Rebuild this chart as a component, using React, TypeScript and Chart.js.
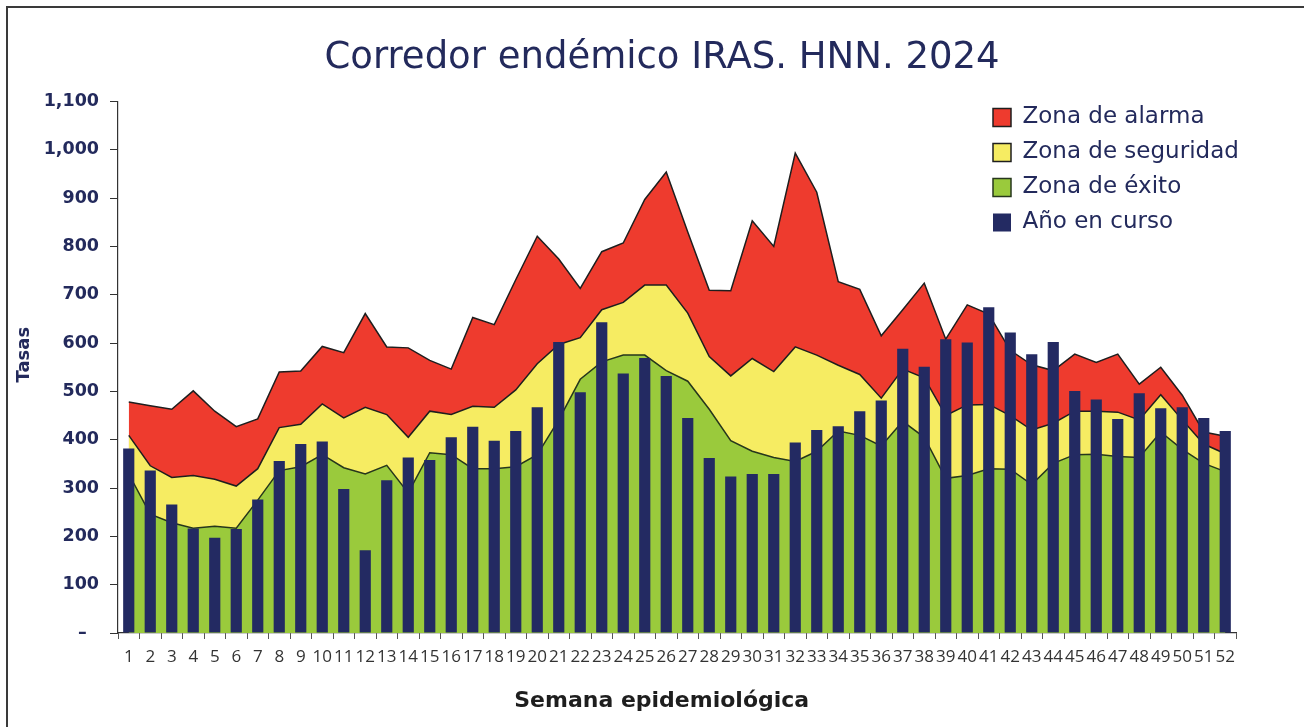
import React, { useEffect, useRef } from 'react';
import { Chart, registerables } from 'chart.js';

Chart.register(...registerables);

const weeks = ['1','2','3','4','5','6','7','8','9','10','11','12','13','14','15','16','17','18','19','20','21','22','23','24','25','26','27','28','29','30','31','32','33','34','35','36','37','38','39','40','41','42','43','44','45','46','47','48','49','50','51','52'];

const zonaAlarma = [478,470,463,501,459,427,443,540,542,593,580,661,592,590,564,546,653,638,731,821,774,713,789,807,897,954,830,709,708,853,800,993,912,727,711,615,669,724,608,679,660,585,555,543,577,560,577,515,550,492,416,407];

const zonaSeguridad = [409,346,322,326,318,304,340,425,432,474,445,467,452,405,459,452,469,467,503,557,597,611,669,684,720,720,662,572,532,568,541,592,575,554,535,486,546,528,450,472,473,450,420,434,459,459,457,441,493,441,391,371];

const zonaExito = [329,246,228,217,221,217,275,336,344,369,342,329,347,290,373,369,340,340,344,369,441,525,561,575,575,543,521,463,398,376,363,355,376,418,409,387,438,405,320,326,340,339,307,351,369,370,365,363,416,380,351,334];

const anoEnCurso = [382,336,266,216,197,215,276,356,391,396,298,171,316,363,358,405,427,398,418,467,602,498,643,537,569,532,445,362,324,329,329,394,420,428,459,481,588,551,608,601,674,622,577,602,501,483,443,496,465,467,445,418];

const seriesNames = ['Zona de alarma', 'Zona de seguridad', 'Zona de éxito', 'Año en curso'];

const NAVY = '#232a5c';
const GEO = '"DejaVu Sans", Inter, sans-serif';

const legendPlacer = {
  id: 'legendPlacer',
  afterLayout(chart: any) {
    const lg = chart.legend;
    if (!lg) return;
    const ca = chart.chartArea;
    const w = lg.width;
    lg.left = ca.right - 255;
    lg.right = lg.left + w;
    lg.top = ca.top - 7.5;
    lg.bottom = lg.top + 220;
  },
};

export default function App() {
  const ref = useRef<HTMLCanvasElement | null>(null);

  useEffect(() => {
    if (!ref.current) return;
    const chart = new Chart(ref.current, {
      type: 'bar',
      data: {
        labels: weeks,
        datasets: [
          {
            type: 'line',
            label: seriesNames[0],
            data: zonaAlarma,
            backgroundColor: '#ee3b2e',
            borderColor: '#1e1e1e',
            borderWidth: 1.5,
            pointRadius: 0,
            tension: 0,
            fill: 'origin',
            order: 4,
          } as any,
          {
            type: 'line',
            label: seriesNames[1],
            data: zonaSeguridad,
            backgroundColor: '#f6ec62',
            borderColor: '#1e1e1e',
            borderWidth: 1.5,
            pointRadius: 0,
            tension: 0,
            fill: 'origin',
            order: 3,
          } as any,
          {
            type: 'line',
            label: seriesNames[2],
            data: zonaExito,
            backgroundColor: '#9aca3c',
            borderColor: '#26361c',
            borderWidth: 1.5,
            pointRadius: 0,
            tension: 0,
            fill: 'origin',
            order: 2,
          } as any,
          {
            type: 'bar',
            label: seriesNames[3],
            data: anoEnCurso,
            backgroundColor: '#232a62',
            borderWidth: 0,
            barPercentage: 0.52,
            categoryPercentage: 1,
            order: 1,
          } as any,
        ],
      },
      options: {
        animation: false,
        responsive: true,
        maintainAspectRatio: false,
        layout: { padding: { left: 20, right: 0, top: 0, bottom: 0 } },
        plugins: {
          tooltip: { enabled: false },
          title: {
            display: true,
            text: 'Corredor endémico IRAS. HNN. 2024',
            color: NAVY,
            font: { family: GEO, size: 37, weight: 'normal' as any },
            padding: { top: 28, bottom: 21 },
          },
          legend: {
            display: true,
            position: 'chartArea' as any,
            align: 'start',
            reverse: true,
            labels: {
              boxWidth: 18,
              boxHeight: 18,
              padding: 12,
              color: NAVY,
              font: { family: GEO, size: 23, weight: 'normal' as any },
            },
          },
        },
        scales: {
          x: {
            offset: true,
            grid: {
              display: true,
              offset: true,
              drawOnChartArea: false,
              drawTicks: true,
              tickLength: 6,
              color: '#555',
            },
            border: { display: true, color: '#333', width: 1.2 },
            ticks: {
              autoSkip: false,
              maxRotation: 0,
              minRotation: 0,
              padding: 8,
              color: '#333',
              font: { family: '"Open Sans", sans-serif', size: 17 },
            },
            title: {
              display: true,
              text: 'Semana epidemiológica    ',
              color: '#1e1e1e',
              font: { family: GEO, size: 22, weight: 'bold' as any },
              padding: { top: 0, bottom: 5 },
            },
            afterFit(scale: any) {
              scale.height = 86;
            },
          },
          y: {
            min: 0,
            max: 1100,
            ticks: {
              stepSize: 100,
              padding: 11,
              color: NAVY,
              font: { family: GEO, size: 17.5, weight: 'bold' as any },
              callback: (v: any) => (Number(v) === 0 ? '–  ' : Number(v).toLocaleString('en-US')),
            },
            grid: {
              display: true,
              drawOnChartArea: false,
              drawTicks: true,
              tickLength: 8,
              color: '#333',
            },
            border: { display: true, color: '#333', width: 1.2 },
            title: {
              display: true,
              text: '    Tasas',
              color: NAVY,
              font: { family: GEO, size: 18, weight: 'bold' as any },
              padding: { top: -14, bottom: 0 },
            },
            afterFit(scale: any) {
              scale.width = 90;
            },
          },
          yRightSpace: {
            type: 'linear',
            position: 'right',
            display: true,
            grid: { display: false },
            border: { display: false },
            ticks: { display: false },
            afterFit(scale: any) {
              scale.width = 60;
            },
          } as any,
        },
      },
      plugins: [legendPlacer],
    });
    return () => chart.destroy();
  }, []);

  return (
    <>
      <div
        style={{
          position: 'absolute',
          left: 6,
          top: 6,
          width: 1298,
          height: 721,
          borderTop: '2px solid #3a3a3a',
          borderLeft: '2px solid #3a3a3a',
          boxSizing: 'border-box',
          pointerEvents: 'none',
        }}
      />
      <div style={{ position: 'relative', width: 1288, height: 711 }}>
        <canvas ref={ref} />
      </div>
    </>
  );
}
